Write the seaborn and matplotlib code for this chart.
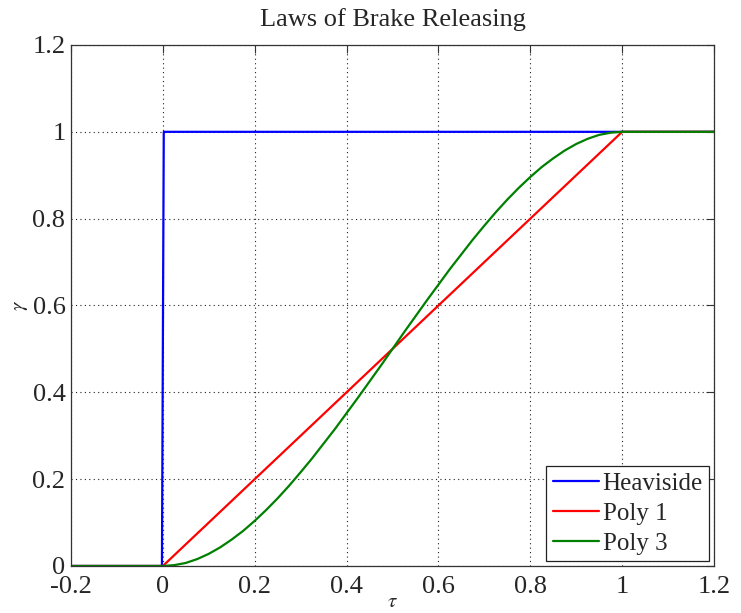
import matplotlib
matplotlib.use("Agg")
import matplotlib.pyplot as plt
import seaborn as sns
import pandas as pd

# Brake-release laws: gamma as a function of normalised time tau
heaviside_tau = [-0.2, -0.002, 0.0, 0.002, 1.2]
heaviside_gamma = [0.0, 0.0, 0.5, 1.0, 1.0]

poly1_tau = [-0.2, 0.0, 1.0, 1.2]
poly1_gamma = [0.0, 0.0, 1.0, 1.0]

poly3_tau = [-0.2, 0.0, 0.025, 0.05, 0.075, 0.1, 0.125, 0.15, 0.175, 0.2,
             0.225, 0.25, 0.275, 0.3, 0.325, 0.35, 0.375, 0.4, 0.425, 0.45,
             0.475, 0.5, 0.525, 0.55, 0.575, 0.6, 0.625, 0.65, 0.675, 0.7,
             0.725, 0.75, 0.775, 0.8, 0.825, 0.85, 0.875, 0.9, 0.925, 0.95,
             0.975, 1.0, 1.2]
poly3_gamma = [0.0, 0.0, 0.002, 0.007, 0.016, 0.028, 0.043, 0.061, 0.081, 0.104,
               0.129, 0.156, 0.185, 0.216, 0.248, 0.282, 0.316, 0.352, 0.388,
               0.425, 0.462, 0.5, 0.538, 0.575, 0.612, 0.648, 0.684, 0.718,
               0.752, 0.784, 0.815, 0.844, 0.871, 0.896, 0.919, 0.939, 0.957,
               0.972, 0.984, 0.993, 0.998, 1.0, 1.0]

series_names = ["Heaviside", "Poly 1", "Poly 3"]
series_colors = ["#0000ff", "#ff0000", "#008000"]

x_ticks = [-0.2, 0, 0.2, 0.4, 0.6, 0.8, 1, 1.2]
y_ticks = [0, 0.2, 0.4, 0.6, 0.8, 1, 1.2]
tick_labels_x = ["-0.2", "0", "0.2", "0.4", "0.6", "0.8", "1", "1.2"]
tick_labels_y = ["0", "0.2", "0.4", "0.6", "0.8", "1", "1.2"]

rows = []
for name, xs, ys in zip(series_names,
                        [heaviside_tau, poly1_tau, poly3_tau],
                        [heaviside_gamma, poly1_gamma, poly3_gamma]):
    for t, g in zip(xs, ys):
        rows.append({"law": name, "tau": t, "gamma": g})
df = pd.DataFrame(rows)

sns.set_style("white")
plt.rcParams["font.family"] = ["Liberation Serif", "DejaVu Serif"]
plt.rcParams["mathtext.fontset"] = "stix"

fig = plt.figure(figsize=(7.41, 6.13), dpi=100)
ax = fig.add_axes([0.0958, 0.0767, 0.8678, 0.8499])

sns.lineplot(data=df, x="tau", y="gamma", hue="law", hue_order=series_names,
             palette=series_colors, sort=False, estimator=None, units="law",
             linewidth=1.6, ax=ax)

ax.set_xlim(-0.2, 1.2)
ax.set_ylim(0, 1.2)
ax.set_xticks(x_ticks)
ax.set_xticklabels(tick_labels_x)
ax.set_yticks(y_ticks)
ax.set_yticklabels(tick_labels_y)
ax.tick_params(direction="in", length=6, width=0.8, color="#333333",
               top=True, right=True, labelsize=19)
ax.tick_params(axis="x", pad=7)
ax.tick_params(axis="y", pad=4)
for side in ["top", "right", "bottom", "left"]:
    ax.spines[side].set_visible(True)
    ax.spines[side].set_color("#333333")
    ax.spines[side].set_linewidth(0.9)

ax.grid(True, linestyle=(0, (1, 3)), color="#222222", linewidth=0.8)

ax.set_title("Laws of Brake Releasing", fontsize=19, pad=14)
ax.set_xlabel(r"$\tau$", fontsize=15)
ax.xaxis.set_label_coords(0.5, -0.052)
ax.set_ylabel(r"$\gamma$", fontsize=15, labelpad=2)

leg = ax.legend(loc="lower right", fontsize=18, frameon=True, fancybox=False,
                borderaxespad=0.2, handlelength=1.85, handletextpad=0.15,
                labelspacing=0.3, borderpad=0.25)
leg.get_frame().set_edgecolor("#222222")
leg.get_frame().set_linewidth(0.9)
leg.get_frame().set_alpha(1.0)

fig.savefig("out.png", dpi=100)
